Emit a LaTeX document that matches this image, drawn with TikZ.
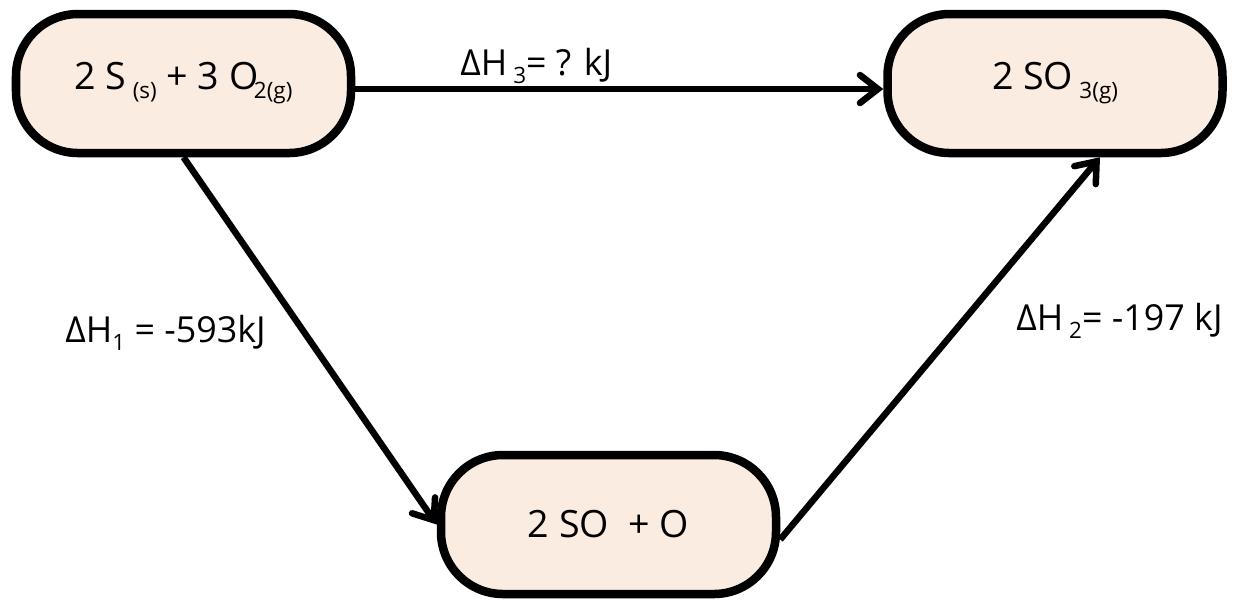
\documentclass[tikz,border=0pt]{standalone}
\usepackage{fontspec}
\setmainfont{Open Sans}
\usepackage{tikz}
\usetikzlibrary{arrows.meta}
\definecolor{boxbeige}{RGB}{250,236,225}
\newcommand{\chsub}[1]{\raisebox{-0.45ex}{\fontsize{6.4}{7}\selectfont #1}}

\begin{document}
\begin{tikzpicture}[
    state/.style={draw,line width=0.085cm,rounded corners=0.62cm,fill=boxbeige,
        minimum width=3.35cm,minimum height=1.39cm,inner sep=0pt},
    rxn/.style={line width=0.065cm,-{Straight Barb[length=0.18cm,width=0.28cm,line cap=round]}},
    every node/.style={font=\fontsize{10.7}{13}\selectfont},
    dh/.style={font=\fontsize{10.2}{12}\selectfont}
]
    \useasboundingbox (0,0) rectangle (12.4,-5.99);

    % Reactants, product and intermediate
    \node[state] (react) at (1.835,-0.835) {2 S\,\chsub{(s)} + 3 O\kern-0.12em\chsub{2(g)}};
    \node[state] (prod) at (10.55,-0.835) {2 SO\,\chsub{3(g)}};
    \node[state] (inter) at (6.085,-5.245) {2 SO\ \ + O};

    % Direct path
    \draw[rxn] ([yshift=-0.055cm]react.east) -- ([yshift=-0.055cm]prod.west);
    \node[dh,anchor=base west] (dh3) at (4.48,-0.75) {ΔH\,\chsub{3}= ? kJ};

    % Two step path
    \draw[rxn] (react.south) -- (inter.west);
    \node[dh,anchor=base west] (dh1) at (0.53,-3.42) {ΔH\chsub{1} = -593kJ};

    \draw[rxn] ([yshift=-0.15cm]inter.east) -- ([xshift=0.45cm]prod.south);
    \node[dh,anchor=base east] (dh2) at (12.35,-3.30) {ΔH\,\chsub{2}= -197 kJ};
\end{tikzpicture}
\end{document}
